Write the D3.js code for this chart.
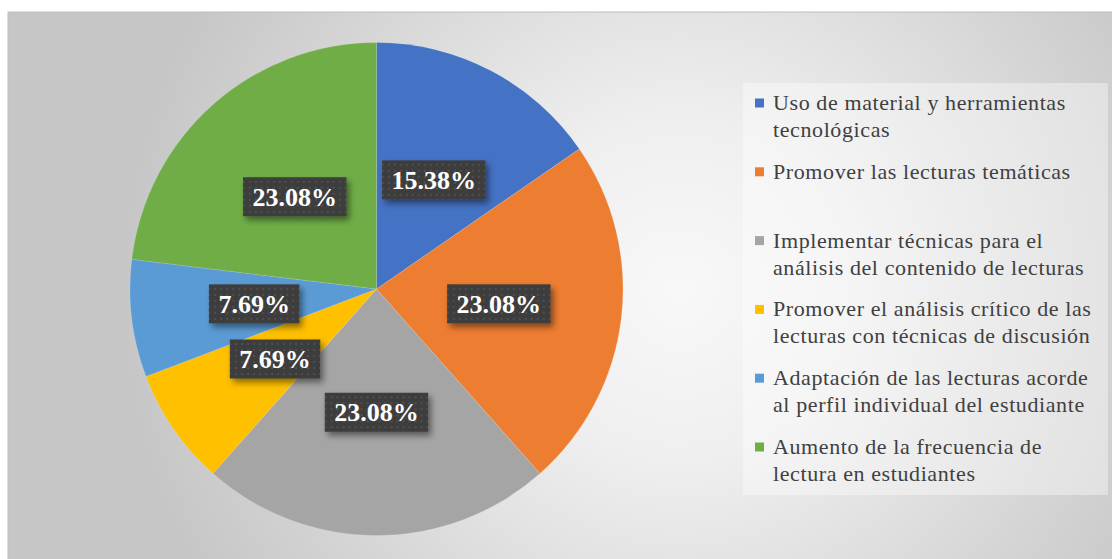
<!DOCTYPE html>
<html>
<head>
<meta charset="utf-8">
<script src="https://d3js.org/d3.v7.min.js"></script>
<style>
  html, body { margin: 0; padding: 0; background: #ffffff; }
  svg { display: block; }
  .serif { font-family: 'Liberation Serif', 'Times New Roman', Tinos, 'DejaVu Serif', serif; }
</style>
</head>
<body>
<div id="chart"></div>
<script>
// data
const categories = [
  ["Uso de material y herramientas", "tecnológicas"],
  ["Promover las lecturas temáticas"],
  ["Implementar técnicas para el", "análisis del contenido de lecturas"],
  ["Promover el análisis crítico de las", "lecturas con técnicas de discusión"],
  ["Adaptación de las lecturas acorde", "al perfil individual del estudiante"],
  ["Aumento de la frecuencia de", "lectura en estudiantes"]
];
const percents = [15.38, 23.08, 23.08, 7.69, 7.69, 23.08];
const colors = ["#4472C4", "#ED7D31", "#A5A5A5", "#FFC000", "#5B9BD5", "#70AD47"];

const width = 1112, height = 559;
const cx = 376.5, cy = 289, radius = 246.5;

const svg = d3.select('#chart')
  .append('svg')
  .attr('width', width)
  .attr('height', height)
  .attr('xmlns', 'http://www.w3.org/2000/svg');

const defs = svg.append('defs');

// chart area background: light centre, grey edges
const bg = defs.append('radialGradient')
  .attr('id', 'bg')
  .attr('gradientUnits', 'userSpaceOnUse')
  .attr('cx', 680).attr('cy', 290).attr('r', 560);
bg.append('stop').attr('offset', 0).attr('stop-color', '#f8f8f8');
bg.append('stop').attr('offset', 0.3).attr('stop-color', '#efefef');
bg.append('stop').attr('offset', 0.75).attr('stop-color', '#d4d4d4');
bg.append('stop').attr('offset', 1).attr('stop-color', '#c6c6c6');

// dotted texture for the label boxes
const pat = defs.append('pattern')
  .attr('id', 'dots')
  .attr('patternUnits', 'userSpaceOnUse')
  .attr('width', 6).attr('height', 6);
pat.append('rect').attr('width', 6).attr('height', 6).attr('fill', '#3d3d3d');
pat.append('circle').attr('cx', 3).attr('cy', 3).attr('r', 0.9).attr('fill', '#575757');

const shadow = defs.append('filter')
  .attr('id', 'shadow')
  .attr('x', '-20%').attr('y', '-30%')
  .attr('width', '150%').attr('height', '180%');
shadow.append('feDropShadow')
  .attr('dx', 3).attr('dy', 4)
  .attr('stdDeviation', 3)
  .attr('flood-color', '#000')
  .attr('flood-opacity', 0.45);

svg.append('rect')
  .attr('x', 8).attr('y', 12)
  .attr('width', width - 8 + 2).attr('height', height - 12 + 2)
  .attr('fill', 'url(#bg)')
  .attr('stroke', '#bdbdbd')
  .attr('stroke-width', 1);

// pie
const pie = d3.pie().sort(null).value(d => d);
const arcs = pie(percents);
const arc = d3.arc().innerRadius(0).outerRadius(radius);

const g = svg.append('g').attr('transform', `translate(${cx},${cy})`);

g.selectAll('path')
  .data(arcs)
  .join('path')
  .attr('d', arc)
  .attr('fill', (d, i) => colors[i])
  .attr('stroke', 'rgba(255,255,255,0.25)')
  .attr('stroke-width', 0.5);

// data labels at the arc centroid
const labels = g.selectAll('g.label')
  .data(arcs)
  .join('g')
  .attr('class', 'label')
  .attr('transform', d => `translate(${arc.centroid(d)})`);

labels.append('rect');
labels.append('text')
  .attr('class', 'serif')
  .attr('text-anchor', 'middle')
  .attr('y', 9)
  .attr('font-size', '26px')
  .attr('font-weight', 'bold')
  .attr('fill', '#ffffff')
  .text(d => d.data.toFixed(2) + '%');

labels.each(function() {
  const t = d3.select(this).select('text').node();
  const w = t.getComputedTextLength() + 19;
  d3.select(this).select('rect')
    .attr('x', -w / 2).attr('y', -19.5)
    .attr('width', w).attr('height', 39)
    .attr('fill', 'url(#dots)')
    .attr('filter', 'url(#shadow)');
});

// legend
svg.append('rect')
  .attr('x', 743).attr('y', 83)
  .attr('width', 365).attr('height', 412)
  .attr('fill', 'rgba(255,255,255,0.38)');

const legend = svg.append('g').selectAll('g')
  .data(categories)
  .join('g')
  .attr('transform', (d, i) => `translate(755,${103 + i * 68.8})`);

legend.append('rect')
  .attr('x', 0).attr('y', -4.5)
  .attr('width', 9).attr('height', 9)
  .attr('fill', (d, i) => colors[i]);

legend.append('text')
  .attr('class', 'serif')
  .attr('x', 18)
  .attr('font-size', '22px')
  .attr('letter-spacing', '0.6px')
  .attr('fill', '#404040')
  .selectAll('tspan')
  .data(d => d)
  .join('tspan')
  .attr('x', 18)
  .attr('y', (d, i) => 7 + i * 27)
  .text(d => d);
</script>
</body>
</html>
